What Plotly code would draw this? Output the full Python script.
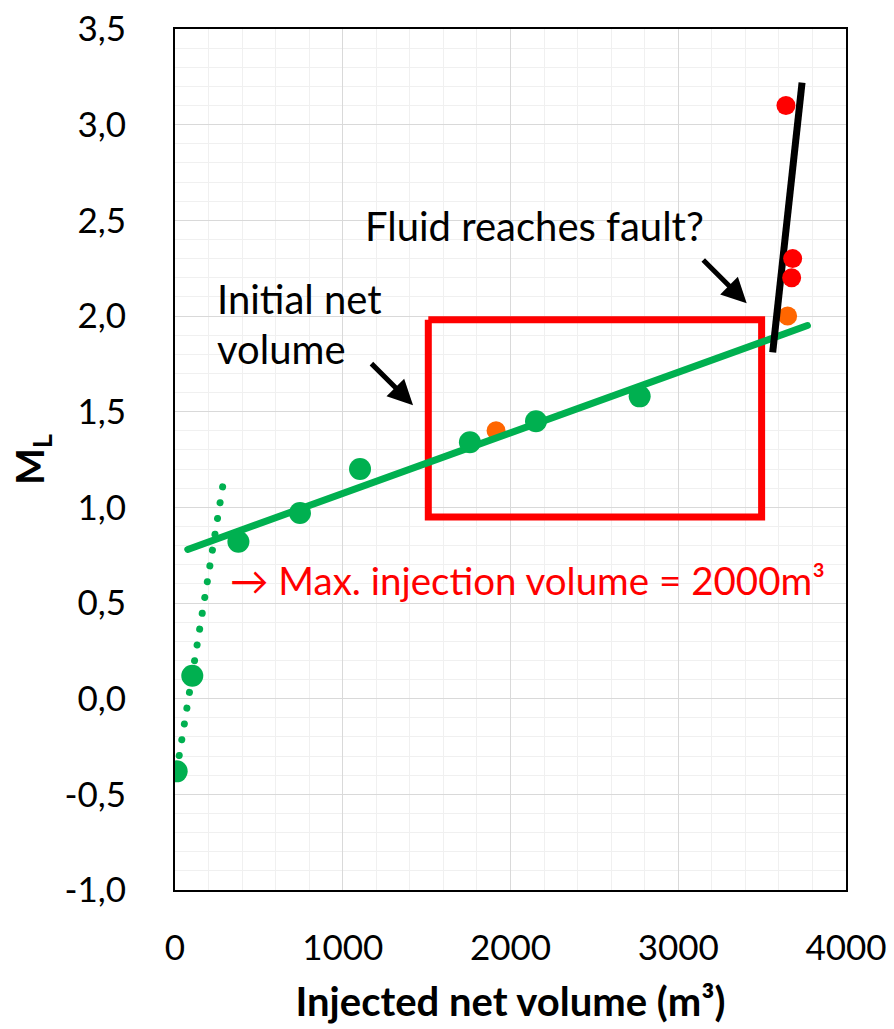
import plotly.graph_objects as go

# ---- data ----
green_x = [10, 103, 378, 745, 1103, 1758, 2152, 2770]
green_y = [-0.38, 0.12, 0.82, 0.97, 1.20, 1.34, 1.45, 1.58]
orange_x = [1914, 3652]
orange_y = [1.40, 2.00]
red_x = [3642, 3682, 3676]
red_y = [3.10, 2.30, 2.20]
trend_x = [76, 3770]
trend_y = [0.78, 1.95]
dotted_x = [10, 290]
dotted_y = [-0.38, 1.14]
fault_x = [3563, 3738]
fault_y = [1.81, 3.22]
box_x = [1510, 3497, 3497, 1510, 1510]
box_y = [1.98, 1.98, 0.95, 0.95, 1.98]
x_ticks = [0, 1000, 2000, 3000, 4000]
x_ticktext = ["0", "1000", "2000", "3000", "4000"]
y_ticks = [3.5, 3.0, 2.5, 2.0, 1.5, 1.0, 0.5, 0.0, -0.5, -1.0]
y_ticktext = ["3,5", "3,0", "2,5", "2,0", "1,5", "1,0", "0,5", "0,0", "-0,5", "-1,0"]

GREEN = "#00B050"
ORANGE = "#FF6600"
RED = "#FF0000"
FONT = "Lato"

fig = go.Figure()
fig.add_trace(go.Scatter(x=box_x, y=box_y, mode="lines",
                         line=dict(color=RED, width=7), hoverinfo="skip"))
fig.add_trace(go.Scatter(x=orange_x, y=orange_y, mode="markers",
                         marker=dict(color=ORANGE, size=19)))
fig.add_trace(go.Scatter(x=trend_x, y=trend_y, mode="lines",
                         line=dict(color=GREEN, width=7), uid="trend"))
fig.add_trace(go.Scatter(x=dotted_x, y=dotted_y, mode="lines",
                         line=dict(color=GREEN, width=7, dash="7px,9px"), uid="dotted"))
fig.add_trace(go.Scatter(x=green_x, y=green_y, mode="markers",
                         marker=dict(color=GREEN, size=22)))
fig.add_trace(go.Scatter(x=fault_x, y=fault_y, mode="lines",
                         line=dict(color="black", width=7)))
fig.add_trace(go.Scatter(x=red_x, y=red_y, mode="markers",
                         marker=dict(color=RED, size=19)))

ann_font = dict(family=FONT, size=40, color="black")
fig.add_annotation(x=2146, y=2.47, text="Fluid reaches fault?", showarrow=False,
                   font=ann_font, xanchor="center", yanchor="middle")
fig.add_annotation(x=238, y=2.09, text="Initial net", showarrow=False,
                   font=ann_font, xanchor="left", yanchor="middle")
fig.add_annotation(x=238, y=1.83, text="volume", showarrow=False,
                   font=ann_font, xanchor="left", yanchor="middle")
fig.add_annotation(x=316, y=0.62, text="→ Max. injection volume = 2000m³", showarrow=False,
                   font=dict(family=FONT, size=38.5, color=RED), xanchor="left", yanchor="middle")
# arrows
fig.add_annotation(x=3408, y=2.066, ax=3140, ay=2.301, axref="x", ayref="y",
                   xref="x", yref="y", text="", showarrow=True,
                   arrowhead=2, arrowsize=1.0, arrowwidth=5, arrowcolor="black")
fig.add_annotation(x=1419, y=1.534, ax=1162, ay=1.759, axref="x", ayref="y",
                   xref="x", yref="y", text="", showarrow=True,
                   arrowhead=2, arrowsize=1.0, arrowwidth=5, arrowcolor="black")

fig.update_layout(
    width=894, height=1029,
    margin=dict(l=175, r=48, t=29, b=139),
    paper_bgcolor="white", plot_bgcolor="white",
    showlegend=False,
    font=dict(family=FONT, color="black"),
)
fig.update_xaxes(
    range=[0, 4000], tickvals=x_ticks, ticktext=x_ticktext, automargin=False,
    tickfont=dict(family=FONT, size=35, color="black"),
    ticks="", ticklabelstandoff=26,
    showgrid=True, gridcolor="#D9D9D9", gridwidth=1.3,
    minor=dict(dtick=200, showgrid=True, gridcolor="#F0F0F0", gridwidth=1.3),
    showline=True, linecolor="black", linewidth=2, mirror=True,
    zeroline=False,
    title=dict(text="<b>Injected net volume (m³)</b>",
               font=dict(family=FONT, size=40, color="black"), standoff=22),
)
fig.update_yaxes(
    range=[-1.0, 3.5], tickvals=y_ticks, ticktext=y_ticktext, automargin=False,
    tickfont=dict(family=FONT, size=35, color="black"),
    ticks="", ticklabelstandoff=40,
    showgrid=True, gridcolor="#D9D9D9", gridwidth=1.3,
    minor=dict(dtick=0.1, showgrid=True, gridcolor="#F0F0F0", gridwidth=1.3),
    showline=True, linecolor="black", linewidth=2, mirror=True,
    zeroline=False,
    title=dict(text="<b>M<sub>L</sub></b>",
               font=dict(family=FONT, size=39, color="black"), standoff=8),
)

post = """
var gd = document.getElementById('{plot_id}');
function fix(){
  var p = gd.querySelector('.tracedotted path.js-line');
  if(p){ p.style.strokeLinecap='round'; p.style.strokeDasharray='0.01px,16px'; }
  var t = gd.querySelector('.tracetrend path.js-line');
  if(t){ t.style.strokeLinecap='round'; }
}
fix();
gd.on && gd.on('plotly_afterplot', fix);
"""
fig.write_html("out.html", post_script=post)
